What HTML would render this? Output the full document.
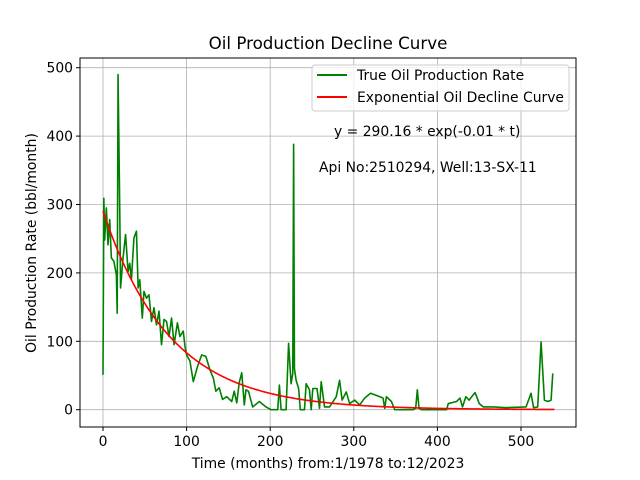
<!DOCTYPE html>
<html><head><meta charset="utf-8"><style>
body{margin:0;background:#fff;}
svg{display:block;font-family:"DejaVu Sans","Liberation Sans",sans-serif;}
</style></head><body>
<svg id="chart" width="640" height="480" viewBox="0 0 640 480" xmlns="http://www.w3.org/2000/svg">
<rect width="640" height="480" fill="#fff"/>
<g id="grid"></g>
<g id="series"></g>
<rect x="80" y="58" width="496" height="369" fill="none" stroke="#000" stroke-width="1"/>
<g id="ticks" font-size="13.9"></g>
<text x="328" y="49" text-anchor="middle" font-size="16.7">Oil Production Decline Curve</text>
<text x="328" y="468" text-anchor="middle" font-size="13.9">Time (months) from:1/1978 to:12/2023</text>
<text transform="translate(36,243) rotate(-90)" text-anchor="middle" font-size="13.9">Oil Production Rate (bbl/month)</text>
<g>
<rect x="312" y="65" width="257" height="46" rx="3" fill="#fff" fill-opacity="0.8" stroke="#ccc"/>
<line x1="317" y1="75" x2="347" y2="75" stroke="green" stroke-width="2"/>
<text x="357" y="80" font-size="13.9">True Oil Production Rate</text>
<line x1="317" y1="97" x2="347" y2="97" stroke="red" stroke-width="2"/>
<text x="357" y="102" font-size="13.9">Exponential Oil Decline Curve</text>
</g>
<text x="334" y="136" font-size="13.9">y = 290.16 * exp(-0.01 * t)</text>
<text x="319" y="172" font-size="13.9">Api No:2510294, Well:13-SX-11</text>
</svg>
<script>
const months=[0,1,2,4,6,8,10,13,16,17,18,20,21,24,27,30,32,34,37,40,42,44,47,49,52,55,58,61,64,67,70,73,76,79,82,85,89,92,96,98,100,104,108,113,118,123,128,132,135,139,143,148,154,157,160,163,166,169,171,174,179,187,195,201,209,211,213,219,222,225,227,228,229,231,234,236,241,243,247,249,251,256,259,261,265,271,279,283,286,291,295,301,307,313,320,327,335,337,339,345,349,371,374,376,378,381,411,413,423,427,430,434,438,441,445,447,450,455,467,482,506,512,515,520,524,528,532,536,538];
const rates=[51,309,248,295,241,278,222,217,197,141,490,295,178,222,256,202,214,190,251,261,178,190,134,173,163,168,129,149,124,144,95,132,129,107,134,95,127,107,115,93,80,71,41,63,80,78,58,46,27,32,15,19,12,27,10,40,54,7,29,27,4,12,4,0,0,36,0,0,97,38,53,388,60,43,31,0,0,38,29,0,31,31,2,41,4,4,19,43,14,26,9,14,7,17,24,21,17,2,19,12,0,0,2,29,2,0,0,9,12,17,4,19,14,19,25,19,9,4,4,3,4,24,3,4,99,14,12,14,53];
const fitA=290.16;
const fitK=0.0125;
const fitEnd=540;
const xTicks=[0,100,200,300,400,500];
const yTicks=[0,100,200,300,400,500];
const X=v=>103+v*0.836;
const Y=v=>409.7-v*0.684;
const NS="http://www.w3.org/2000/svg";
const grid=document.getElementById('grid'),ticks=document.getElementById('ticks'),series=document.getElementById('series');
function mk(tag,attrs,parent){const e=document.createElementNS(NS,tag);for(const k in attrs)e.setAttribute(k,attrs[k]);parent.appendChild(e);return e;}
xTicks.forEach(t=>{
 const g=mk('line',{x1:X(t),x2:X(t),y1:58,y2:427,stroke:'#b0b0b0','stroke-width':0.8},grid);
 
 
 const tk=mk('line',{x1:X(t),x2:X(t),y1:427,y2:431,stroke:'#000'},ticks);
 
 
 const tx=mk('text',{x:X(t),y:446,'text-anchor':'middle'},ticks);
 tx.textContent=t;
 
 
});
yTicks.forEach(t=>{
 const g=mk('line',{x1:80,x2:576,y1:Y(t),y2:Y(t),stroke:'#b0b0b0','stroke-width':0.8},grid);
 
 
 const tk=mk('line',{x1:76,x2:80,y1:Y(t),y2:Y(t),stroke:'#000'},ticks);
 
 
 const tx=mk('text',{x:73,y:Y(t)+5,'text-anchor':'end'},ticks);
 tx.textContent=t;
 
 
});
const gp=mk('polyline',{points:months.map((m,i)=>X(m)+','+Y(rates[i])).join(' '),fill:'none',stroke:'green','stroke-width':1.6,'stroke-linejoin':'round'},series);


const fp=[];for(let t=0;t<=fitEnd;t+=2)fp.push(X(t)+','+Y(fitA*Math.exp(-fitK*t)));
const rp=mk('polyline',{points:fp.join(' '),fill:'none',stroke:'red','stroke-width':1.6},series);


</script>
</body></html>
